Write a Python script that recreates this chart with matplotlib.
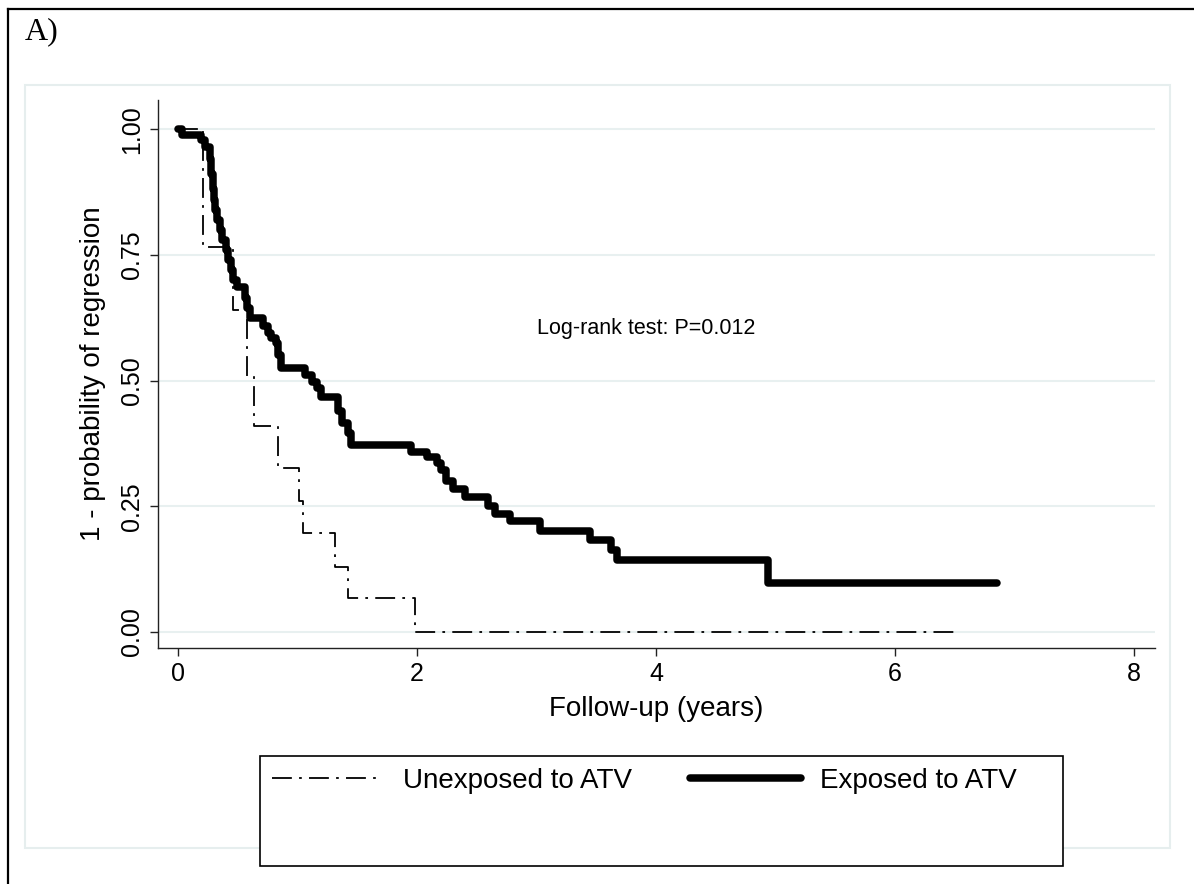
import matplotlib
matplotlib.use('Agg')
import matplotlib.pyplot as plt
from matplotlib.patches import Rectangle
from matplotlib.lines import Line2D

plt.rcParams['font.family'] = ['Liberation Sans', 'DejaVu Sans']

# Kaplan-Meier style step data
unexp_t = [0, 0.21, 0.46, 0.58, 0.64, 0.84, 1.01, 1.05, 1.31, 1.42, 1.98, 6.5]
unexp_s = [1.0, 0.765, 0.64, 0.51, 0.41, 0.326, 0.26, 0.197, 0.13, 0.067, 0.0, 0.0]

exp_t = [0, 0.03, 0.19, 0.23, 0.27, 0.28, 0.29, 0.30, 0.31, 0.33, 0.35, 0.37,
         0.40, 0.42, 0.44, 0.46, 0.49, 0.56, 0.58, 0.60, 0.71, 0.75, 0.78,
         0.82, 0.84, 0.86, 1.06, 1.12, 1.16, 1.20, 1.34, 1.37, 1.42, 1.45,
         1.95, 2.08, 2.17, 2.20, 2.24, 2.30, 2.40, 2.59, 2.65, 2.78, 3.03,
         3.45, 3.62, 3.67, 4.94, 6.85]
exp_s = [1.0, 0.988, 0.978, 0.964, 0.94, 0.91, 0.88, 0.86, 0.84, 0.82, 0.80, 0.78,
         0.76, 0.74, 0.72, 0.70, 0.686, 0.665, 0.645, 0.624, 0.608, 0.594, 0.584,
         0.574, 0.55, 0.525, 0.511, 0.498, 0.485, 0.467, 0.44, 0.415, 0.395, 0.372,
         0.358, 0.348, 0.335, 0.322, 0.30, 0.285, 0.268, 0.25, 0.235, 0.22, 0.20,
         0.183, 0.163, 0.143, 0.097, 0.097]

xticks = [0, 2, 4, 6, 8]
yticks = [0, 0.25, 0.5, 0.75, 1.0]
ytick_labels = ['0.00', '0.25', '0.50', '0.75', '1.00']

W, H = 1194, 884
fig = plt.figure(figsize=(W / 100, H / 100), dpi=100)

# outer frame (only top and left visible) and light plot region box
fig.add_artist(Line2D([8 / W, 1], [1 - 9 / H, 1 - 9 / H], color='black', lw=1.6))
fig.add_artist(Line2D([8 / W, 8 / W], [0, 1 - 9 / H], color='black', lw=1.6))
fig.add_artist(Rectangle((25 / W, 1 - 848 / H), (1170 - 25) / W, (848 - 85) / H,
                         facecolor='white', edgecolor='#e6eeee', lw=1.5, zorder=-10))
fig.text(25 / W, 1 - 32 / H, 'A)', family='Liberation Serif', fontsize=23,
         va='center', ha='left')

ax = fig.add_axes([158 / W, 1 - 648 / H, (1155 - 158) / W, (648 - 100) / H])
ax.set_facecolor('none')
ax.set_xlim(-0.167, 8.175)
ax.set_ylim(-0.032, 1.058)

for y in yticks:
    ax.axhline(y, color='#e8f0f0', lw=1.5, zorder=0)

ax.step(unexp_t, unexp_s, where='post', color='black', lw=1.3,
        linestyle=(0, (11, 4, 1.5, 4)), label='Unexposed to ATV')
ax.step(exp_t, exp_s, where='post', color='black', lw=5.4,
        solid_joinstyle='round', solid_capstyle='round', label='Exposed to ATV')

ax.text(3.0, 0.604, 'Log-rank test: P=0.012', fontsize=15.5, va='center', ha='left')

for s in ['top', 'right']:
    ax.spines[s].set_visible(False)
for s in ['left', 'bottom']:
    ax.spines[s].set_color('#222222')
    ax.spines[s].set_linewidth(1.0)

ax.set_xticks(xticks)
ax.set_xticklabels([str(x) for x in xticks], fontsize=18)
ax.set_yticks(yticks)
ax.set_yticklabels(ytick_labels, fontsize=18, rotation=90, va='center')
ax.tick_params(direction='out', length=6, width=1.0, color='#222222', pad=4)
ax.set_xlabel('Follow-up (years)', fontsize=20, labelpad=7)
ax.set_ylabel('1 - probability of regression', fontsize=20, labelpad=10)

# legend box (Stata style with empty lower half)
fig.add_artist(Rectangle((260 / W, 1 - 866 / H), (1063 - 260) / W, (866 - 756) / H,
                         facecolor='white', edgecolor='black', lw=1.2, zorder=-5))
handles, labels = ax.get_legend_handles_labels()
leg = fig.legend(handles, labels, ncol=2, frameon=False, fontsize=20,
                 loc='center left', bbox_to_anchor=(272 / W, 1 - 781 / H),
                 handlelength=4.0, handletextpad=0.7, columnspacing=2.1,
                 borderaxespad=0, borderpad=0)

fig.savefig('out.png', dpi=100)
